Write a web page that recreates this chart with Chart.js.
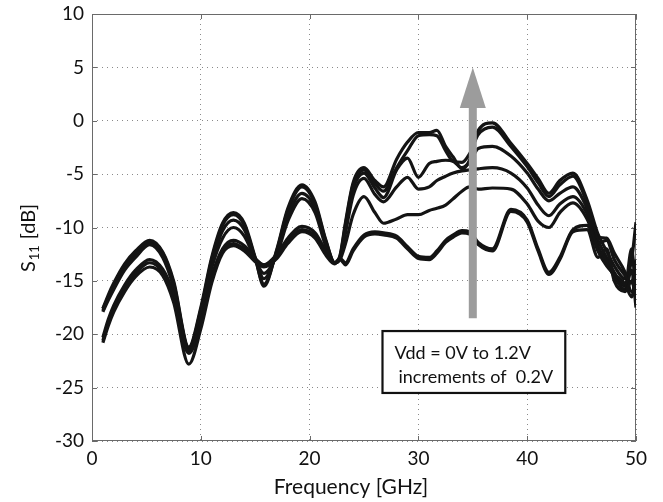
<!DOCTYPE html>
<html>
<head>
<meta charset="utf-8">
<script src="https://cdn.jsdelivr.net/npm/chart.js@4/dist/chart.umd.min.js"></script>
<style>
  html, body { margin: 0; padding: 0; background: #fff; }
  #wrap { width: 663px; height: 502px; }
</style>
</head>
<body>
<div id="wrap"><canvas id="s11"></canvas></div>
<script>
// frequency points (GHz) shared by every sweep
var freq = [1, 1.5, 2, 3, 4, 5.3, 6.5, 7.5, 8.9, 10, 11, 12, 13, 14, 15, 15.8, 17, 18, 19.3, 20.5,
            21.5, 22.3, 22.8, 23.3, 24, 25, 26, 26.8, 28, 29, 30, 31, 31.7, 32.5, 33.2, 34, 34.7, 35.5, 36.8, 38.5,
            40, 41, 42, 43, 44.2, 45.5, 46.5, 47.3, 48, 49, 49.6, 50];

// S11 in dB, one array per Vdd step
var s11_0V0 = [-20.8, -19.2, -17.9, -16.0, -14.6, -13.7, -14.5, -17.0, -22.8, -19.5, -15.2, -12.4, -11.7, -12.2, -13.2, -13.7, -12.9, -11.5, -10.4, -11.0,
               -12.6, -13.4, -13.0, -13.5, -12.2, -10.9, -10.6, -10.7, -11.0, -12.0, -12.9, -13.0, -12.4, -11.4, -10.9, -10.5, -10.6, -11.6, -12.2, -8.5,
               -9.5, -12.2, -14.4, -13.0, -10.4, -10.2, -12.8, -12.0, -15.0, -16.0, -15.0, -16.8];
var s11_0V2 = [-20.6, -18.9, -17.6, -15.7, -14.3, -13.3, -14.2, -16.5, -21.8, -19.0, -14.9, -12.2, -11.5, -12.0, -13.0, -13.5, -12.7, -11.3, -10.2, -10.8,
               -12.4, -13.3, -12.9, -13.3, -12.0, -10.7, -10.4, -10.5, -10.8, -11.8, -12.7, -12.8, -12.2, -11.2, -10.7, -10.3, -10.4, -11.4, -12.0, -8.3,
               -9.3, -12.0, -14.2, -12.8, -10.2, -9.8, -12.2, -13.6, -14.4, -15.3, -16.5, -14.0];
var s11_0V4 = [-20.3, -18.6, -17.3, -15.4, -14.0, -13.0, -13.9, -16.2, -21.6, -18.8, -14.6, -12.0, -11.2, -11.7, -12.9, -13.5, -12.5, -11.0, -9.9, -10.5,
               -12.2, -13.3, -13.0, -11.5, -8.8, -7.1, -8.6, -9.6, -9.2, -8.8, -8.8, -8.4, -8.2, -7.9, -7.3, -6.6, -6.2, -6.4, -6.3, -6.4,
               -7.8, -9.4, -10.0, -8.6, -7.7, -9.2, -11.8, -13.2, -14.6, -15.8, -14.0, -17.5];
var s11_0V6 = [-17.9, -16.8, -15.8, -14.0, -12.8, -11.6, -12.8, -15.6, -21.5, -18.2, -13.8, -11.0, -10.0, -10.8, -13.0, -14.3, -12.5, -9.4, -7.3, -8.6,
               -11.8, -13.3, -12.9, -10.5, -7.0, -5.4, -6.9, -7.6, -6.2, -5.3, -6.4, -6.2, -5.6, -5.2, -4.9, -4.7, -4.6, -4.5, -4.4, -4.9,
               -6.3, -7.9, -8.9, -7.8, -7.1, -8.7, -11.5, -11.2, -13.0, -14.5, -15.2, -13.0];
var s11_0V8 = [-17.6, -16.6, -15.6, -13.8, -12.6, -11.5, -12.6, -15.4, -21.4, -17.9, -13.4, -10.3, -9.3, -10.2, -12.9, -14.8, -12.3, -8.9, -6.8, -8.2,
               -11.5, -13.3, -12.8, -10.0, -6.4, -4.9, -6.3, -7.2, -4.6, -3.5, -5.3, -4.0, -3.8, -3.7, -3.8, -4.4, -3.9, -2.6, -2.4, -3.3,
               -4.9, -6.4, -7.5, -6.8, -6.2, -8.2, -11.2, -12.8, -14.2, -15.5, -12.0, -17.0];
var s11_1V0 = [-17.8, -16.5, -15.4, -13.6, -12.4, -11.3, -12.4, -15.2, -21.3, -17.7, -13.0, -9.8, -8.8, -9.8, -12.9, -15.3, -12.1, -8.4, -6.2, -7.8,
               -11.3, -13.3, -12.7, -9.7, -6.0, -4.6, -5.9, -6.6, -4.4, -2.8, -1.4, -1.3, -1.4, -2.8, -3.8, -3.9, -3.1, -1.3, -0.6, -2.4,
               -4.3, -5.8, -7.1, -6.0, -5.2, -7.7, -10.9, -11.0, -12.4, -14.2, -16.0, -15.5];
var s11_1V2 = [-17.6, -16.3, -15.2, -13.4, -12.2, -11.2, -12.3, -15.0, -21.2, -17.5, -12.8, -9.6, -8.6, -9.6, -12.8, -15.5, -12.0, -8.2, -6.0, -7.6,
               -11.2, -13.3, -12.6, -9.5, -5.8, -4.4, -5.6, -6.2, -3.6, -2.0, -1.1, -1.1, -0.9, -2.4, -3.4, -4.5, -3.7, -0.9, -0.2, -2.1,
               -4.0, -5.4, -6.8, -5.6, -4.9, -7.4, -10.6, -12.2, -13.6, -14.8, -13.0, -9.5];

var sweeps = [s11_0V0, s11_0V2, s11_0V4, s11_0V6, s11_0V8, s11_1V0, s11_1V2];
var sweepNames = ['0V', '0.2V', '0.4V', '0.6V', '0.8V', '1.0V', '1.2V'];

// annotation: arrow along 35 GHz and the note box
var arrowFreq = 35, arrowFrom = -18.5, arrowTo = 5, arrowHeadDb = 1.2;
var noteLines = ['Vdd = 0V to 1.2V', 'increments of  0.2V'];
var noteBox = { f0: 26.7, f1: 43.5, db0: -19.7, db1: -25.5 };

var FONT = 'Lato, "Noto Sans", sans-serif';

var datasets = sweeps.map(function(vals, k) {
  return {
    label: sweepNames[k],
    data: freq.map(function(f, i) { return { x: f, y: vals[i] }; }),
    borderColor: '#141414',
    borderWidth: 3.2,
    pointRadius: 0,
    fill: false,
    cubicInterpolationMode: 'monotone'
  };
});

var decor = {
  id: 'decor',
  beforeDatasetsDraw: function(chart) {
    var a = chart.chartArea, ctx = chart.ctx;
    var xs = chart.scales.x, ys = chart.scales.y;
    ctx.save();
    ctx.strokeStyle = '#6a6a6a';
    ctx.lineWidth = 1;
    ctx.strokeRect(a.left + 0.5, a.top + 0.5, a.right - a.left - 1, a.bottom - a.top - 1);
    ctx.beginPath();
    xs.ticks.forEach(function(t) {
      var px = Math.round(xs.getPixelForValue(t.value)) + 0.5;
      ctx.moveTo(px, a.bottom); ctx.lineTo(px, a.bottom - 5);
      ctx.moveTo(px, a.top); ctx.lineTo(px, a.top + 5);
    });
    ys.ticks.forEach(function(t) {
      var py = Math.round(ys.getPixelForValue(t.value)) + 0.5;
      ctx.moveTo(a.left, py); ctx.lineTo(a.left + 5, py);
      ctx.moveTo(a.right, py); ctx.lineTo(a.right - 5, py);
    });
    ctx.stroke();
    ctx.restore();
  },
  afterDatasetsDraw: function(chart) {
    var ctx = chart.ctx, xs = chart.scales.x, ys = chart.scales.y;
    ctx.save();
    // gray arrow
    var ax = xs.getPixelForValue(arrowFreq);
    var yb = ys.getPixelForValue(arrowFrom);
    var yh = ys.getPixelForValue(arrowHeadDb);
    var yt = ys.getPixelForValue(arrowTo);
    ctx.fillStyle = '#9c9c9c';
    ctx.fillRect(ax - 4, yh, 8, yb - yh);
    ctx.beginPath();
    ctx.moveTo(ax, yt);
    ctx.lineTo(ax + 13, yh);
    ctx.lineTo(ax - 13, yh);
    ctx.closePath();
    ctx.fill();
    // note box
    var bx0 = xs.getPixelForValue(noteBox.f0), bx1 = xs.getPixelForValue(noteBox.f1);
    var by0 = ys.getPixelForValue(noteBox.db0), by1 = ys.getPixelForValue(noteBox.db1);
    ctx.fillStyle = '#fff';
    ctx.fillRect(bx0, by0, bx1 - bx0, by1 - by0);
    ctx.strokeStyle = '#111';
    ctx.lineWidth = 2.2;
    ctx.strokeRect(bx0, by0, bx1 - bx0, by1 - by0);
    ctx.fillStyle = '#111';
    ctx.font = '18px ' + FONT;
    ctx.textBaseline = 'middle';
    ctx.textAlign = 'left';
    ctx.fillText(noteLines[0], bx0 + 12, by0 + 22);
    ctx.fillText(noteLines[1], bx0 + 16, by0 + 46);
    ctx.restore();
  },
  afterDraw: function(chart) {
    var ctx = chart.ctx;
    ctx.save();
    ctx.fillStyle = '#111';
    // x axis title
    ctx.font = '21px ' + FONT;
    ctx.textAlign = 'center';
    ctx.textBaseline = 'middle';
    ctx.fillText('Frequency [GHz]', 351, 487);
    // y axis title with subscript
    ctx.translate(35, 238);
    ctx.rotate(-Math.PI / 2);
    ctx.textBaseline = 'alphabetic';
    ctx.textAlign = 'left';
    var big = '20px ' + FONT, small = '13px ' + FONT;
    ctx.font = big;
    var wS = ctx.measureText('S').width;
    var wT = ctx.measureText('[dB]').width;
    ctx.font = small;
    var w11 = ctx.measureText('11').width;
    var gap = 6;
    var total = wS + 1 + w11 + gap + wT;
    var x = -total / 2;
    ctx.font = big;
    ctx.fillText('S', x, 0);
    x += wS + 1;
    ctx.font = small;
    ctx.fillText('11', x, 4);
    x += w11 + gap;
    ctx.font = big;
    ctx.fillText('[dB]', x, 0);
    ctx.restore();
  }
};

new Chart(document.getElementById('s11'), {
  type: 'line',
  data: { datasets: datasets },
  plugins: [decor],
  options: {
    responsive: true,
    maintainAspectRatio: false,
    animation: false,
    layout: { padding: { top: 14, right: 27, bottom: 0, left: 0 } },
    plugins: { legend: { display: false }, tooltip: { enabled: false } },
    scales: {
      x: {
        type: 'linear',
        min: 0, max: 50,
        ticks: { stepSize: 10, color: '#111', padding: 8, font: { family: FONT, size: 19, lineHeight: 1 } },
        grid: { color: '#8a8a8a', lineWidth: 1, drawTicks: false },
        border: { display: false, dash: [1, 4] },
        afterFit: function(s) { s.height = 61; s.paddingLeft = 0; s.paddingRight = 0; }
      },
      y: {
        min: -30, max: 10,
        ticks: { stepSize: 5, color: '#111', padding: 8, font: { family: FONT, size: 19, lineHeight: 1 } },
        grid: { color: '#8a8a8a', lineWidth: 1, drawTicks: false },
        border: { display: false, dash: [1, 4] },
        afterFit: function(s) { s.width = 92; s.paddingTop = 0; s.paddingBottom = 0; }
      }
    }
  }
});
</script>
</body>
</html>
